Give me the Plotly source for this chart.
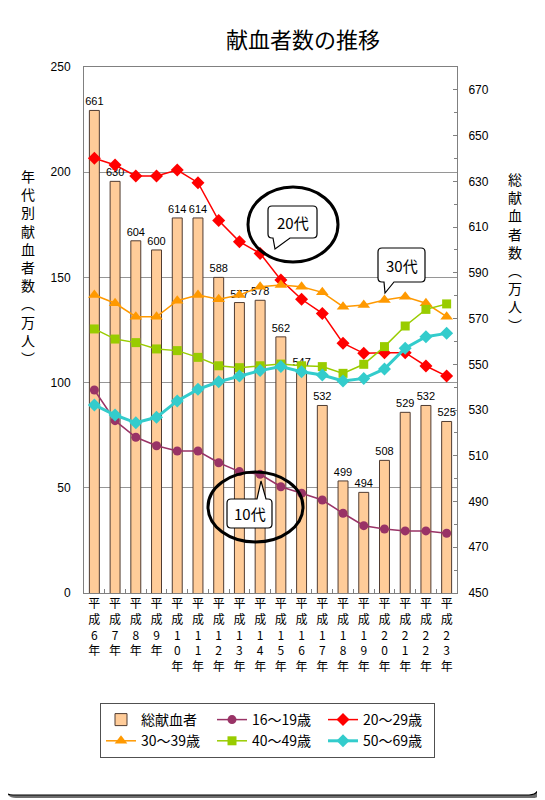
import plotly.graph_objects as go

years = ["平成6年", "平成7年", "平成8年", "平成9年", "平成10年", "平成11年",
         "平成12年", "平成13年", "平成14年", "平成15年", "平成16年", "平成17年",
         "平成18年", "平成19年", "平成20年", "平成21年", "平成22年", "平成23年"]

# 総献血者数（万人）- right axis
total_donors = [661, 630, 604, 600, 614, 614, 588, 577, 578, 562, 547, 532,
                499, 494, 508, 529, 532, 525]

# 年代別献血者数（万人）- left axis
age_16_19 = [96.5, 81.9, 74.0, 70.0, 67.5, 67.5, 61.9, 57.7, 56.4, 50.5, 47.4, 44.2,
             37.9, 32.0, 30.4, 29.5, 29.5, 28.4]
age_20_29 = [206.6, 203.4, 198.2, 198.2, 201.0, 195.0, 177.0, 167.0, 161.4, 148.8, 139.6, 132.9,
             118.7, 113.9, 114.2, 114.2, 107.9, 103.1]
age_30_39 = [141.6, 137.7, 131.3, 131.3, 138.9, 141.6, 139.6, 141.6, 145.6, 146.4, 145.6, 142.9,
             136.1, 136.9, 139.3, 140.8, 137.7, 131.3]
age_40_49 = [125.5, 120.7, 119.0, 116.0, 115.2, 112.0, 108.0, 107.1, 108.0, 108.8, 108.0, 107.6,
             104.4, 108.7, 117.1, 126.9, 134.8, 137.4]
age_50_69 = [89.4, 84.6, 80.9, 83.5, 91.3, 96.8, 100.4, 103.1, 105.7, 107.6, 105.2, 103.6,
             100.8, 102.0, 106.5, 116.3, 121.8, 123.4]

tick_text = ["<br>".join(y) for y in years]

JP = "Noto Sans CJK JP"
NUM = "Liberation Sans, Arial"

# the page body adds an 8px margin, so layout pixels are screen pixels minus 8
OFF = 8
# plot area in screen pixels
L, R, T, B = 84, 457, 67, 593
W, H = 545, 800


def px(x):
    return (x - L) / (R - L)


def py(y):
    return (B - y) / (B - T)


def pt(x, y):
    return f"{px(x):.4f},{py(y):.4f}"


def bubble_path(x0, y0, x1, y1, r, tail=None):
    # tail = (edge, base_left, base_right, tip_x, tip_y)
    s = [f"M {pt(x0 + r, y0)}"]
    if tail and tail[0] == "top":
        s += [f"L {pt(tail[1], y0)}", f"L {pt(tail[3], tail[4])}", f"L {pt(tail[2], y0)}"]
    s += [f"L {pt(x1 - r, y0)}", f"Q {pt(x1, y0)} {pt(x1, y0 + r)}",
          f"L {pt(x1, y1 - r)}", f"Q {pt(x1, y1)} {pt(x1 - r, y1)}"]
    if tail and tail[0] == "bottom":
        s += [f"L {pt(tail[2], y1)}", f"L {pt(tail[3], tail[4])}", f"L {pt(tail[1], y1)}"]
    s += [f"L {pt(x0 + r, y1)}", f"Q {pt(x0, y1)} {pt(x0, y1 - r)}",
          f"L {pt(x0, y0 + r)}", f"Q {pt(x0, y0)} {pt(x0 + r, y0)}", "Z"]
    return " ".join(s)


def label(text, x, y, size):
    return dict(text=text, x=px(x), y=py(y), xref="paper", yref="paper", showarrow=False,
                xanchor="center", yanchor="middle", font=dict(family=JP, size=size, color="black"))


fig = go.Figure()

fig.add_trace(go.Bar(
    x=years, y=total_donors, name="総献血者", yaxis="y",
    marker=dict(color="rgb(255,204,153)", line=dict(color="rgb(80,60,50)", width=1)),
    width=0.48,
    text=total_donors, textposition="outside", cliponaxis=False, constraintext="none",
    textfont=dict(family=NUM, size=11, color="black"),
))

lines = [
    ("16～19歳", age_16_19, "rgb(153,51,102)", "circle", 9, 1.5),
    ("20～29歳", age_20_29, "rgb(255,0,0)", "diamond", 10, 1.5),
    ("30～39歳", age_30_39, "rgb(255,153,0)", "triangle-up", 11, 1.5),
    ("40～49歳", age_40_49, "rgb(153,204,0)", "square", 9, 1.5),
    ("50～69歳", age_50_69, "rgb(51,204,204)", "diamond", 10, 3),
]
for name, vals, color, symbol, size, width in lines:
    fig.add_trace(go.Scatter(
        x=years, y=vals, name=name, yaxis="y2", mode="lines+markers",
        line=dict(color=color, width=width),
        marker=dict(symbol=symbol, size=size, color=color),
    ))

shapes = [
    # outer frame with shadow
    dict(type="path", xref="paper", yref="paper", layer="below",
         path=bubble_path(6, 6, 542, 798, 10), fillcolor="rgb(110,110,110)", line=dict(width=0)),
    dict(type="path", xref="paper", yref="paper", layer="below",
         path=bubble_path(3, 3, 539, 795, 10), fillcolor="white", line=dict(color="black", width=1.2)),
    # ellipses
    dict(type="circle", xref="paper", yref="paper", x0=px(248), x1=px(338), y0=py(262), y1=py(187),
         line=dict(color="black", width=3)),
    dict(type="circle", xref="paper", yref="paper", x0=px(208), x1=px(303), y0=py(542), y1=py(472),
         line=dict(color="black", width=3)),
    # speech bubbles
    dict(type="path", xref="paper", yref="paper",
         path=bubble_path(268, 206, 317, 238, 4, ("bottom", 273, 290, 275, 249)),
         fillcolor="white", line=dict(color="black", width=1.2)),
    dict(type="path", xref="paper", yref="paper",
         path=bubble_path(378, 248, 425, 282, 4, ("bottom", 384, 394, 385, 293)),
         fillcolor="white", line=dict(color="black", width=1.2)),
    dict(type="path", xref="paper", yref="paper",
         path=bubble_path(227, 499, 272, 528, 4, ("top", 257, 266, 261, 481)),
         fillcolor="white", line=dict(color="black", width=1.2)),
]

annotations = [
    label("20代", 292.5, 222, 15),
    label("30代", 401.5, 265, 15),
    label("10代", 249.5, 513.5, 15),
    label("<br>".join("年代別献血者数︵万人︶"), 28, 267, 14),
    label("<br>".join("総献血者数︵万人︶"), 515, 252, 14),
]

fig.update_layout(
    width=W, height=H,
    margin=dict(l=L - OFF, r=W - R + OFF, t=T - OFF, b=H - B + OFF),
    paper_bgcolor="white", plot_bgcolor="white",
    title=dict(text="献血者数の推移", x=(303 - OFF) / W, xanchor="center", y=1 - (40 - OFF) / H,
               yanchor="middle", font=dict(family=JP, size=22, color="black")),
    showlegend=True,
    legend=dict(orientation="h", x=px(100), y=py(703), xanchor="left", yanchor="top",
                entrywidth=66, bordercolor="rgb(80,80,80)", borderwidth=1, bgcolor="white",
                font=dict(family=JP, size=14, color="black"), traceorder="normal"),
    xaxis=dict(type="category", range=[-0.5, 17.5], tickmode="array", tickvals=years, ticktext=tick_text,
               tickangle=0, tickfont=dict(family=JP, size=12, color="black"), ticks="inside",
               tickson="boundaries", ticklen=4, tickcolor="gray", showline=True, linecolor="gray",
               mirror=True, showgrid=False, automargin=False),
    yaxis=dict(side="right", range=[450, 680], tick0=450, dtick=20, showgrid=False, zeroline=False,
               ticks="inside", ticklen=4, tickcolor="gray", showline=True, linecolor="gray",
               minor=dict(dtick=10, tick0=450, ticks="inside", ticklen=3, tickcolor="gray"),
               tickfont=dict(family=NUM, size=12, color="black"), ticklabelstandoff=8,
               automargin=False),
    yaxis2=dict(side="left", overlaying="y", range=[0, 250], dtick=50, showgrid=True,
                gridcolor="rgb(150,150,150)", gridwidth=1, zeroline=False,
                ticks="", showline=True, linecolor="gray",
                tickfont=dict(family=NUM, size=12, color="black"), ticklabelstandoff=10,
                automargin=False),
    shapes=shapes,
    annotations=annotations,
)

fig.write_html("out.html")
